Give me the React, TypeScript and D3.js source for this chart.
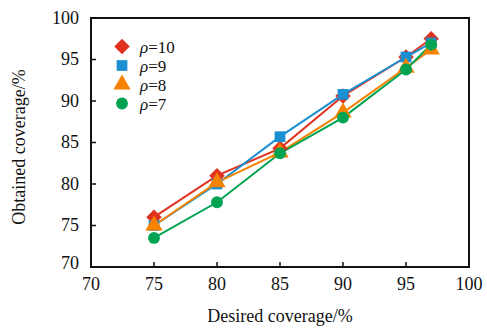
import React from "react";
import * as d3 from "d3";

const desired = [75, 80, 85, 90, 95, 97];
const rho10 = [76, 81, 84.3, 90.6, 95.3, 97.5];
const rho9 = [75, 80, 85.7, 90.8, 95.3, 97];
const rho8 = [75, 80.2, 83.8, 88.6, 94, 96.2];
const rho7 = [73.5, 77.8, 83.7, 88, 93.8, 96.8];
const xTicks = [70, 75, 80, 85, 90, 95, 100];
const yTicks = [70, 75, 80, 85, 90, 95, 100];

// diamond = square turned 45 degrees
const series = [
  { label: "10", values: rho10, color: "#e0321e", symbol: d3.symbolSquare, size: 120, rot: 45 },
  { label: "9", values: rho9, color: "#1a8fd1", symbol: d3.symbolSquare, size: 115, rot: 0 },
  { label: "8", values: rho8, color: "#f58200", symbol: d3.symbolTriangle, size: 130, rot: 0 },
  { label: "7", values: rho7, color: "#00a352", symbol: d3.symbolCircle, size: 110, rot: 0 },
];

const W = 487;
const H = 329;
const FONT = "'Liberation Serif', 'DejaVu Serif', serif";

export default function App() {
  const margin = { left: 91, right: 18, top: 18, bottom: 62 };
  const x = d3.scaleLinear().domain([70, 100]).range([margin.left, W - margin.right]);
  const y = d3.scaleLinear().domain([70, 100]).range([H - margin.bottom, margin.top]);
  const line = d3
    .line<[number, number]>()
    .x((d) => x(d[0]))
    .y((d) => y(d[1]));

  return (
    <svg
      width={W}
      height={H}
      style={{ position: "absolute", left: 0, top: 0, background: "#fff" }}
      fontFamily={FONT}
    >
      {/* series lines */}
      {series.map((s) => (
        <path
          key={"l" + s.label}
          d={line(desired.map((d, i) => [d, s.values[i]] as [number, number])) || ""}
          fill="none"
          stroke={s.color}
          strokeWidth={2}
        />
      ))}
      {/* markers */}
      {series.map((s) => (
        <g key={"m" + s.label} fill={s.color}>
          {desired.map((d, i) => (
            <path
              key={i}
              transform={`translate(${x(d)},${y(s.values[i])}) rotate(${s.rot})`}
              d={d3.symbol(s.symbol, s.size)() || ""}
            />
          ))}
        </g>
      ))}

      {/* frame */}
      <rect
        x={x(70)}
        y={y(100)}
        width={x(100) - x(70)}
        height={y(70) - y(100)}
        fill="none"
        stroke="#111"
        strokeWidth={2}
      />
      {xTicks.slice(1, -1).map((t) => (
        <line key={"xt" + t} x1={x(t)} x2={x(t)} y1={y(70)} y2={y(70) - 5} stroke="#111" strokeWidth={1.5} />
      ))}
      {yTicks.slice(1, -1).map((t) => (
        <line key={"yt" + t} x1={x(70)} x2={x(70) + 5} y1={y(t)} y2={y(t)} stroke="#111" strokeWidth={1.5} />
      ))}
      {xTicks.map((t) => (
        <text key={"xl" + t} x={x(t)} y={y(70) + 23} textAnchor="middle" fontSize={18} fill="#111">
          {t}
        </text>
      ))}
      {yTicks.map((t) => (
        <text
          key={"yl" + t}
          x={x(70) - 12}
          y={y(t) + (t === 70 ? 2 : 5.5)}
          textAnchor="end"
          fontSize={18}
          fill="#111"
        >
          {t}
        </text>
      ))}

      <text x={(x(70) + x(100)) / 2} y={322} textAnchor="middle" fontSize={18} fill="#111">
        Desired coverage/%
      </text>
      <text
        transform={`translate(25,147) rotate(-90)`}
        textAnchor="middle"
        fontSize={18}
        fill="#111"
      >
        Obtained coverage/%
      </text>

      {/* legend */}
      {series.map((s, i) => (
        <g key={"lg" + s.label} transform={`translate(0,${46.5 + i * 19})`}>
          <path
            transform={`translate(122,0) rotate(${s.rot})`}
            d={d3.symbol(s.symbol, s.size)() || ""}
            fill={s.color}
          />
          <text x={140} y={6} fontSize={17} fill="#111">
            <tspan fontStyle="italic">ρ</tspan>=
            {s.label}
          </text>
        </g>
      ))}
    </svg>
  );
}
